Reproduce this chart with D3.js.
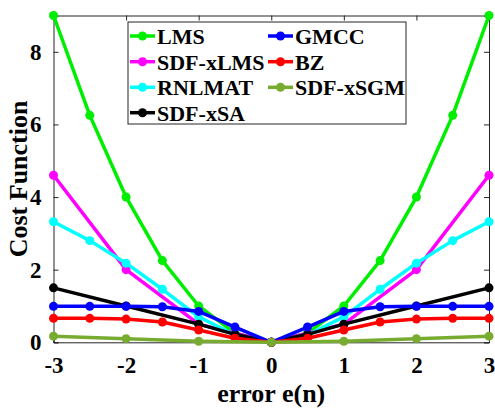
<!DOCTYPE html>
<html>
<head>
<meta charset="utf-8">
<script src="https://cdn.jsdelivr.net/npm/d3@7"></script>
<style>
  body { margin: 0; background: #fff; }
  text { font-family: "Liberation Serif", "Times New Roman", serif; font-weight: bold; fill: #000; }
</style>
</head>
<body>
<div id="chart"></div>
<script>
// Series values
const xHalf = [-3, -2.5, -2, -1.5, -1, -0.5, 0, 0.5, 1, 1.5, 2, 2.5, 3];
const xUnit = [-3, -2, -1, 0, 1, 2, 3];
const xSA = [-3, -2, -1, -0.5, 0, 0.5, 1, 2, 3];

const lms     = [9, 6.25, 4, 2.25, 1, 0.25, 0, 0.25, 1, 2.25, 4, 6.25, 9];
const sdfxlms = [4.6, 2.0, 0.5, 0, 0.5, 2.0, 4.6];
const rnlmat  = [3.32, 2.8, 2.18, 1.46, 0.7, 0.2, 0, 0.2, 0.7, 1.46, 2.18, 2.8, 3.32];
const sdfxsa  = [1.5, 1.0, 0.5, 0.22, 0, 0.22, 0.5, 1.0, 1.5];
const gmcc    = [0.99, 0.99, 0.99, 0.98, 0.85, 0.42, 0, 0.42, 0.85, 0.98, 0.99, 0.99, 0.99];
const bz      = [0.66, 0.66, 0.64, 0.56, 0.34, 0.11, 0, 0.11, 0.34, 0.56, 0.64, 0.66, 0.66];
const sdfxsgm = [0.17, 0.1, 0.03, 0, 0.03, 0.1, 0.17];

const series = [
  {name: "LMS",      x: xHalf, y: lms,     color: "#00ee00"},
  {name: "SDF-xLMS", x: xUnit, y: sdfxlms, color: "#ff00ff"},
  {name: "RNLMAT",   x: xHalf, y: rnlmat,  color: "#00ffff"},
  {name: "SDF-xSA",  x: xSA,   y: sdfxsa,  color: "#000000"},
  {name: "GMCC",     x: xHalf, y: gmcc,    color: "#0000ff"},
  {name: "BZ",       x: xHalf, y: bz,      color: "#ff0000"},
  {name: "SDF-xSGM", x: xUnit, y: sdfxsgm, color: "#77ac30"}
];

const xTicks = [-3, -2, -1, 0, 1, 2, 3];
const yTicks = [0, 2, 4, 6, 8];

const W = 495, H = 409;
const plot = {left: 53.5, right: 489, top: 15.5, bottom: 342.3};

const svg = d3.select("#chart").append("svg")
    .attr("width", W)
    .attr("height", H);

svg.append("rect").attr("width", W).attr("height", H).attr("fill", "#fff");

const x = d3.scaleLinear().domain([-3, 3]).range([plot.left, plot.right]);
const y = d3.scaleLinear().domain([0, 9]).range([plot.bottom, plot.top]);

// plain hyphen for negatives, like the original
const fmt = d => String(d);

// axes box with inward ticks (MATLAB style)
const axisColor = "#262626";
const g = svg.append("g");

g.append("g")
    .attr("transform", `translate(0,${plot.bottom})`)
    .call(d3.axisBottom(x).tickValues(xTicks).tickSize(-5).tickPadding(14).tickFormat(fmt))
    .call(a => a.select(".domain").attr("stroke", axisColor))
    .call(a => a.selectAll(".tick line").attr("stroke", axisColor))
    .call(a => a.selectAll(".tick text").style("font-size", "23px").attr("dy", "0.71em").attr("fill", "#000"));

g.append("g")
    .attr("transform", `translate(0,${plot.top})`)
    .call(d3.axisTop(x).tickValues(xTicks).tickSize(-5).tickFormat(""))
    .call(a => a.select(".domain").attr("stroke", axisColor))
    .call(a => a.selectAll(".tick line").attr("stroke", axisColor));

g.append("g")
    .attr("transform", `translate(${plot.left},0)`)
    .call(d3.axisLeft(y).tickValues(yTicks).tickSize(-5).tickPadding(12).tickFormat(fmt))
    .call(a => a.select(".domain").attr("stroke", axisColor))
    .call(a => a.selectAll(".tick line").attr("stroke", axisColor))
    .call(a => a.selectAll(".tick text").style("font-size", "23px").attr("fill", "#000"));

g.append("g")
    .attr("transform", `translate(${plot.right},0)`)
    .call(d3.axisRight(y).tickValues(yTicks).tickSize(-5).tickFormat(""))
    .call(a => a.select(".domain").attr("stroke", axisColor))
    .call(a => a.selectAll(".tick line").attr("stroke", axisColor));

g.selectAll(".domain").attr("stroke-width", 1);

// lines and markers
const line = d3.line().x(d => x(d[0])).y(d => y(d[1]));

series.forEach(s => {
  const pts = s.x.map((v, i) => [v, s.y[i]]);
  const sg = svg.append("g");
  sg.append("path")
      .datum(pts)
      .attr("d", line)
      .attr("fill", "none")
      .attr("stroke", s.color)
      .attr("stroke-width", 3.5)
      .attr("stroke-linejoin", "round");
  sg.selectAll("circle")
      .data(pts)
    .enter().append("circle")
      .attr("cx", d => x(d[0]))
      .attr("cy", d => y(d[1]))
      .attr("r", 4.5)
      .attr("fill", s.color);
});

// legend (two columns, filled column by column)
const legend = svg.append("g");
legend.append("rect")
    .attr("x", 128).attr("y", 22)
    .attr("width", 278).attr("height", 102)
    .attr("fill", "#fff")
    .attr("stroke", axisColor)
    .attr("stroke-width", 1);

const colX = [130, 268];
const rowY = [36, 61.7, 87.3, 112.7];
series.forEach((s, i) => {
  const col = i < 4 ? 0 : 1;
  const row = i < 4 ? i : i - 4;
  const lx = colX[col], ly = rowY[row];
  legend.append("line")
      .attr("x1", lx).attr("x2", lx + 25)
      .attr("y1", ly).attr("y2", ly)
      .attr("stroke", s.color).attr("stroke-width", 3.5);
  legend.append("circle")
      .attr("cx", lx + 12.5).attr("cy", ly).attr("r", 4.5)
      .attr("fill", s.color);
  legend.append("text")
      .attr("x", lx + 27).attr("y", ly + 8)
      .style("font-size", "22px")
      .text(s.name);
});

// axis labels
svg.append("text")
    .attr("x", (plot.left + plot.right) / 2)
    .attr("y", 402)
    .attr("text-anchor", "middle")
    .style("font-size", "26px")
    .text("error e(n)");

svg.append("text")
    .attr("transform", `translate(27,${(plot.top + plot.bottom) / 2}) rotate(-90)`)
    .attr("text-anchor", "middle")
    .style("font-size", "26px")
    .text("Cost Function");
</script>
</body>
</html>
